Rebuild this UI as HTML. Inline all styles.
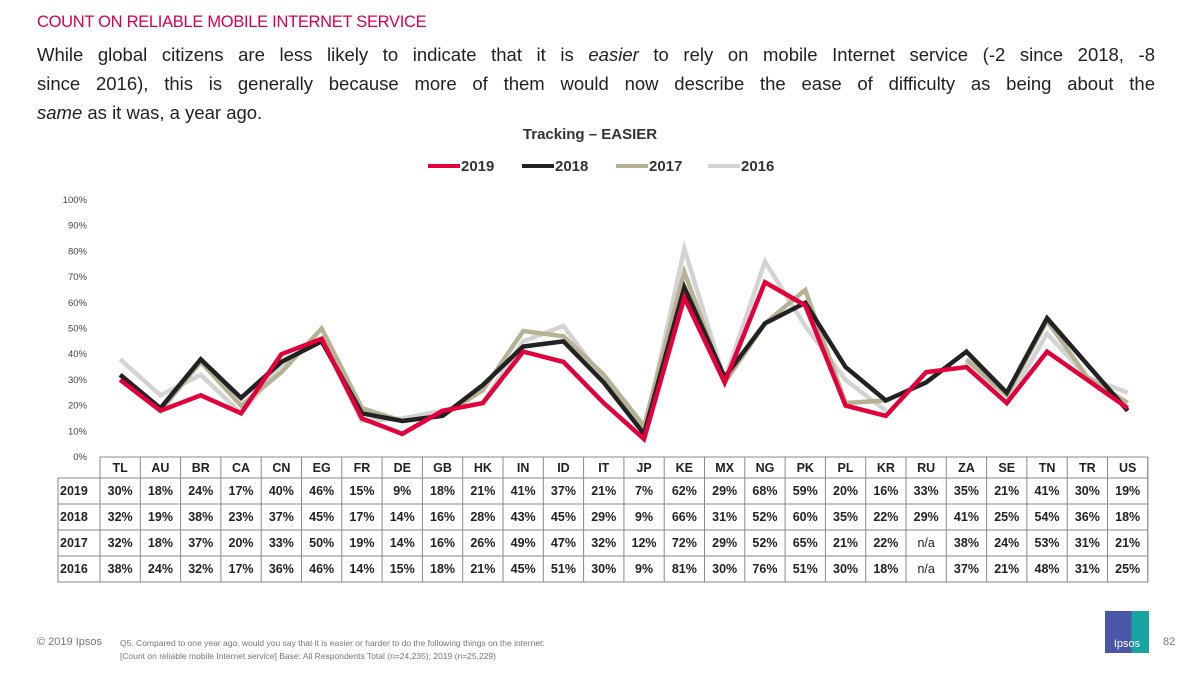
<!DOCTYPE html>
<html><head><meta charset="utf-8"><style>
body{margin:0;width:1200px;height:675px;background:#fff;font-family:"Liberation Sans",sans-serif;position:relative;overflow:hidden}
.abs{position:absolute}
#title{left:37px;top:13px;font-size:16.5px;color:#d6004f;letter-spacing:-0.3px}
.pl{position:absolute;left:37px;width:1118px;font-size:18.5px;color:#222;white-space:nowrap}
.j{text-align:justify;text-align-last:justify}
</style></head><body>
<div id="title" class="abs">COUNT ON RELIABLE MOBILE INTERNET SERVICE</div>
<div>
<div class="pl j" style="top:44px">While global citizens are less likely to indicate that it is <i>easier</i> to rely on mobile Internet service (-2 since 2018, -8</div>
<div class="pl j" style="top:73px">since 2016), this is generally because more of them would now describe the ease of difficulty as being about the</div>
<div class="pl" style="top:102px"><i>same</i> as it was, a year ago.</div>
</div>
<svg id="chart" class="abs" style="left:0;top:0" width="1200" height="675"></svg>
<div class="abs" style="left:37px;top:636px;font-size:11px;color:#777">© 2019 Ipsos</div>
<div class="abs" style="left:120px;top:637px;font-size:8.5px;color:#777;line-height:13px">Q5. Compared to one year ago, would you say that it is easier or harder to do the following things on the internet:<br>[Count on reliable mobile Internet service] Base: All Respondents Total (n=24,235); 2019 (n=25,229)</div>
<div class="abs" style="left:1105px;top:611px;width:44px;height:42px;background:linear-gradient(90deg,#4a57a8 60%,#16a5a0 60%);color:#fff;font-size:11px;text-align:center;line-height:66px;overflow:hidden">Ipsos</div>
<div class="abs" style="left:1163px;top:636px;font-size:11px;color:#777">82</div>
<script>
const categories=["TL","AU","BR","CA","CN","EG","FR","DE","GB","HK","IN","ID","IT","JP","KE","MX","NG","PK","PL","KR","RU","ZA","SE","TN","TR","US"];
const years=["2019","2018","2017","2016"];
const s2019=[30,18,24,17,40,46,15,9,18,21,41,37,21,7,62,29,68,59,20,16,33,35,21,41,30,19];
const s2018=[32,19,38,23,37,45,17,14,16,28,43,45,29,9,66,31,52,60,35,22,29,41,25,54,36,18];
const s2017=[32,18,37,20,33,50,19,14,16,26,49,47,32,12,72,29,52,65,21,22,null,38,24,53,31,21];
const s2016=[38,24,32,17,36,46,14,15,18,21,45,51,30,9,81,30,76,51,30,18,null,37,21,48,31,25];
const yTicks=[0,10,20,30,40,50,60,70,80,90,100];
const colors=["#e2003c","#222222","#b6b394","#d3d3d3"];
const series=[s2019,s2018,s2017,s2016];
const NS="http://www.w3.org/2000/svg";
const svg=document.getElementById('chart');
const x0=100,colW=40.3,y0=457,yTop=200;
const xs=i=>x0+colW*(i+0.5);
const ys=v=>y0-(v/100)*(y0-yTop);
function el(t,a,p){const e=document.createElementNS(NS,t);for(const k in a)e.setAttribute(k,a[k]);(p||svg).appendChild(e);return e;}
function txt(s,a){const e=el('text',a);e.textContent=s;return e;}
// chart title & legend
let t=txt("Tracking – EASIER",{x:590,y:139,'text-anchor':'middle','font-size':15,'font-weight':'bold',fill:'#333'});


const legX=[428,522,616,708];
years.forEach((y,k)=>{
  const g=el('g',{});
  
  
  el('line',{x1:legX[k],y1:166,x2:legX[k]+32,y2:166,stroke:colors[k],'stroke-width':4},g);
  const tt=el('text',{x:legX[k]+33,y:171,'font-size':15,'font-weight':'bold',fill:'#333'},g);tt.textContent=y;
});
// y ticks
yTicks.forEach(v=>{
  const e=txt(v+"%",{x:87,y:ys(v)+3,'text-anchor':'end','font-size':9.5,fill:'#444'});
  
  
});
// lines (2016 first)
for(let k=3;k>=0;k--){
  const d=series[k];let path="",pen=false;
  d.forEach((v,i)=>{if(v==null){pen=false;return;}path+=(pen?"L":"M")+xs(i)+","+ys(v);pen=true;});
  const p=el('path',{d:path,fill:'none',stroke:colors[k],'stroke-width':4.5,'stroke-linejoin':'miter'});
  
  
}
// table
const tg=el('g',{});


const hTop=457,hH=21,rH=26,rTop=478,x1=x0+colW*26;
const st={stroke:'#8a8a8a','stroke-width':1};
el('rect',Object.assign({x:x0,y:hTop,width:x1-x0,height:hH,fill:'none'},st),tg);
el('rect',Object.assign({x:58,y:rTop,width:x1-58,height:rH*4,fill:'none'},st),tg);
for(let r=1;r<4;r++)el('line',Object.assign({x1:58,y1:rTop+rH*r,x2:x1,y2:rTop+rH*r},st),tg);
for(let i=0;i<=26;i++)el('line',Object.assign({x1:x0+colW*i,y1:hTop,x2:x0+colW*i,y2:rTop+rH*4},st),tg);
categories.forEach((c,i)=>{const e=el('text',{x:xs(i),y:hTop+15,'text-anchor':'middle','font-size':12.5,'font-weight':'bold',fill:'#222'},tg);e.textContent=c;});
series.forEach((d,r)=>{
  const e=el('text',{x:60,y:rTop+rH*r+17,'font-size':12.5,'font-weight':'bold',fill:'#222'},tg);e.textContent=years[r];
  d.forEach((v,i)=>{const c=el('text',{x:xs(i),y:rTop+rH*r+17,'text-anchor':'middle','font-size':12.5,'font-weight':v==null?'normal':'bold',fill:'#222'},tg);c.textContent=v==null?"n/a":v+"%";});
});
</script>
</body></html>
